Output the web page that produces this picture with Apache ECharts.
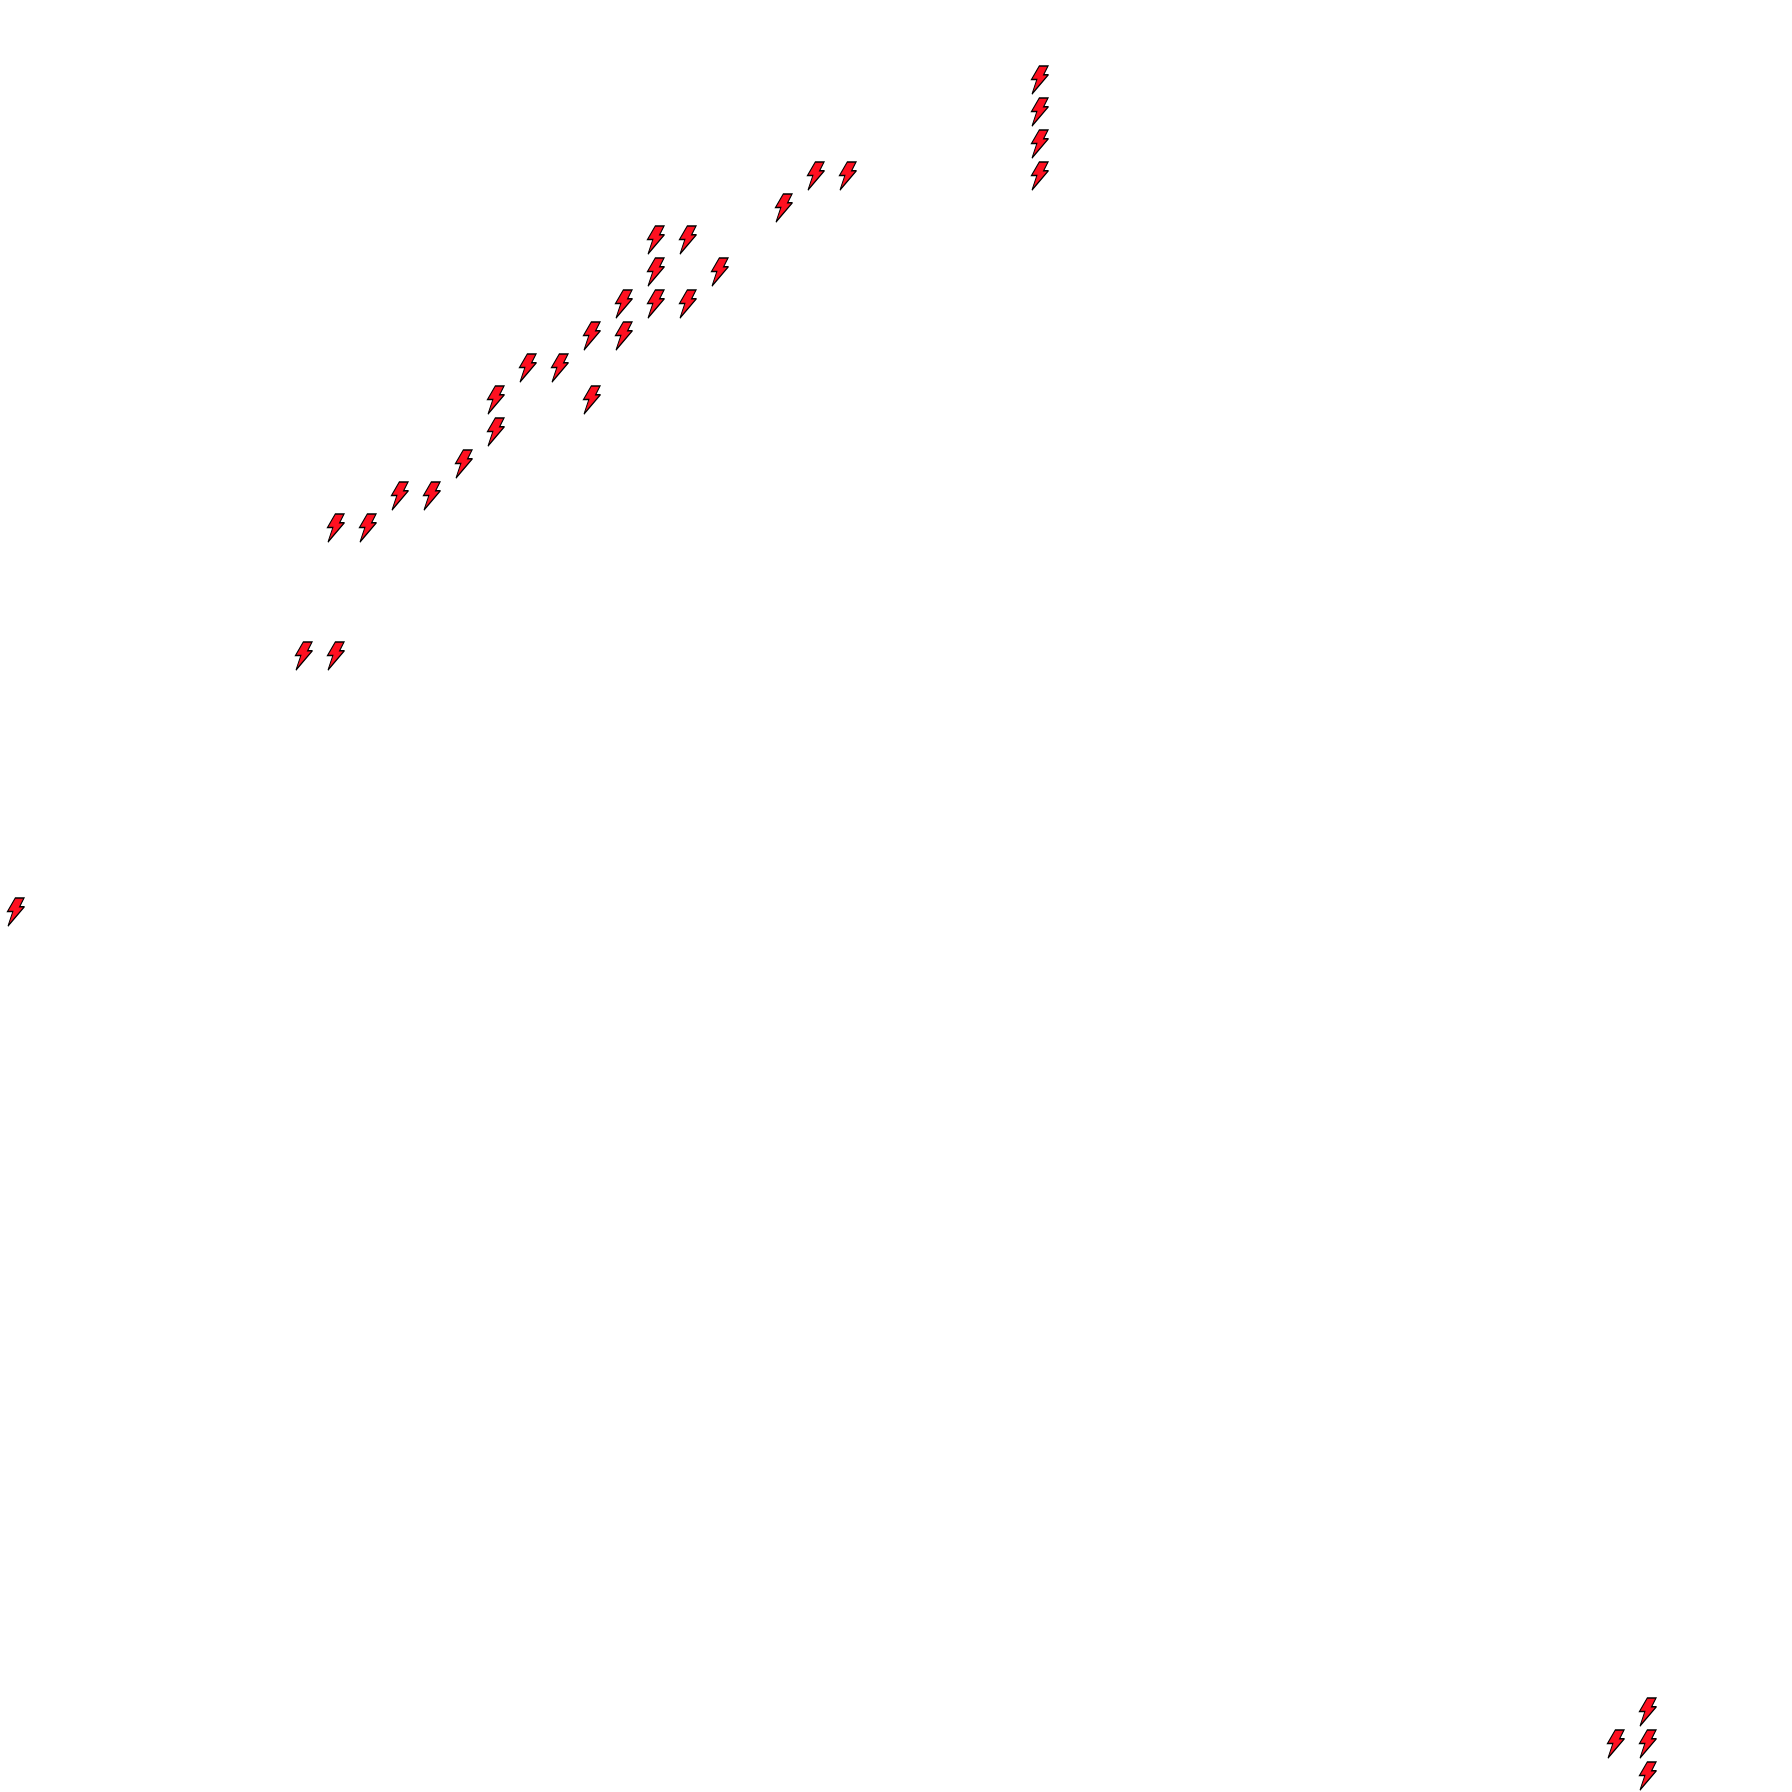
<!DOCTYPE html>
<html>
<head>
<meta charset="utf-8">
<title>bolts</title>
<style>
  html, body { margin: 0; padding: 0; background: #fff; }
  #main { width: 1792px; height: 1792px; }
</style>
<script src="https://cdn.jsdelivr.net/npm/echarts@6/dist/echarts.min.js"></script>
</head>
<body>
<div id="main"></div>
<script>
// cell position of every bolt (56 x 56 cells)
var columns = [32, 32, 32, 32, 25, 26, 24, 20, 21, 20, 22, 19, 20, 21, 18, 19, 16, 17, 15, 18, 15, 14, 12, 13, 10, 11, 9, 10, 0, 51, 50, 51, 51];
var rows    = [2, 3, 4, 5, 5, 5, 6, 7, 7, 8, 8, 9, 9, 9, 10, 10, 11, 11, 12, 12, 13, 14, 15, 15, 16, 16, 20, 20, 28, 53, 54, 54, 55];

var cells = [];
for (var i = 0; i < 56; i++) {
  cells.push(i);
}

var points = columns.map(function (col, i) {
  return [col, rows[i]];
});

var bolt = 'path://M8 0H17L12.5 9H17.5L0.5 29L5.5 14H0Z';

var option = {
  backgroundColor: '#ffffff',
  animation: false,
  grid: { left: 0, right: 0, top: 0, bottom: 0 },
  xAxis: {
    type: 'category',
    data: cells,
    show: false
  },
  yAxis: {
    type: 'category',
    data: cells,
    inverse: true,
    show: false
  },
  series: [
    {
      type: 'scatter',
      symbol: bolt,
      symbolSize: [17, 28],
      silent: true,
      itemStyle: {
        color: '#ff1020',
        opacity: 1,
        borderColor: '#000000',
        borderWidth: 1.2,
        borderMiterLimit: 3
      },
      data: points
    }
  ]
};

var myChart = echarts.init(document.getElementById('main'));
myChart.setOption(option, true);
</script>
</body>
</html>
